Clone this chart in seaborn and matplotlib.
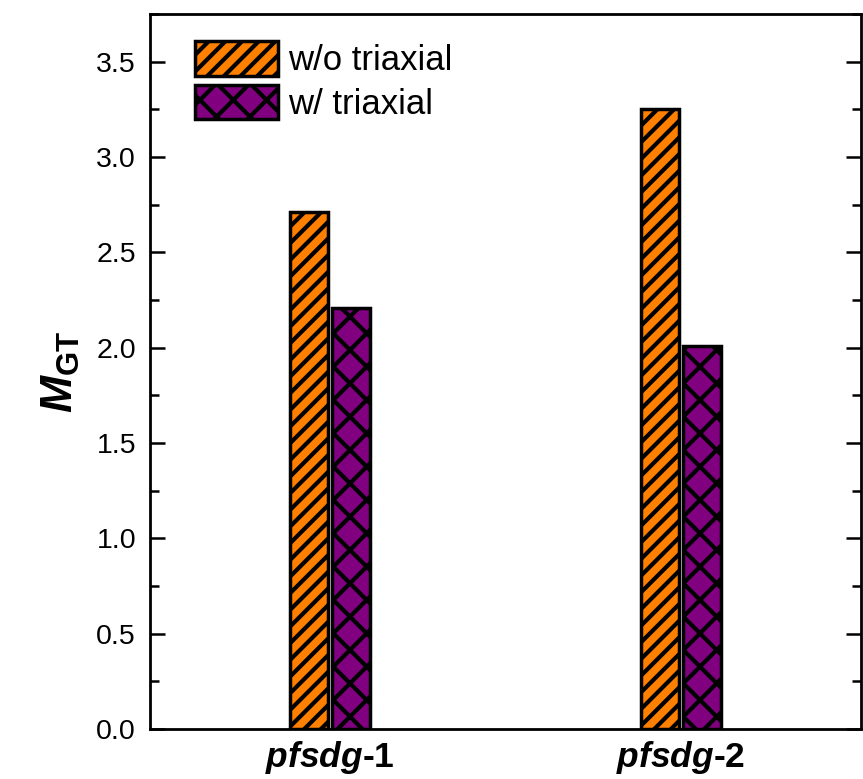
import matplotlib
matplotlib.use("Agg")
import matplotlib.pyplot as plt
import seaborn as sns
import pandas as pd
from matplotlib.ticker import MultipleLocator
from matplotlib.patches import Patch

categories = ["pfsdg-1", "pfsdg-2"]
series_names = ["w/o triaxial", "w/ triaxial"]
values_wo = [2.71, 3.25]
values_w = [2.21, 2.01]
tick_labels = [r"$\mathbfit{pfsdg}$-1", r"$\mathbfit{pfsdg}$-2"]

sns.set_theme(style="ticks")
plt.rcParams["font.family"] = ["Liberation Sans", "DejaVu Sans"]
plt.rcParams["mathtext.fontset"] = "custom"
plt.rcParams["mathtext.rm"] = "Liberation Sans"
plt.rcParams["mathtext.it"] = "Liberation Sans:italic"
plt.rcParams["mathtext.bf"] = "Liberation Sans:bold"
plt.rcParams["mathtext.bfit"] = "Liberation Sans:italic:bold"
plt.rcParams["hatch.linewidth"] = 3.0
plt.rcParams["hatch.color"] = "black"
plt.rcParams["text.color"] = "black"
plt.rcParams["axes.labelcolor"] = "black"
plt.rcParams["xtick.color"] = "black"
plt.rcParams["ytick.color"] = "black"
plt.rcParams["axes.edgecolor"] = "black"

df = pd.DataFrame({
    "cat": categories * 2,
    "series": [series_names[0]] * 2 + [series_names[1]] * 2,
    "value": values_wo + values_w,
})

fig = plt.figure(figsize=(8.63, 7.79), dpi=100)
ax = fig.add_axes([150 / 863, 50 / 779, 711 / 863, 715 / 779])

colors = ["#FF8000", "#800080"]
sns.barplot(data=df, x="cat", y="value", hue="series", palette=colors,
            saturation=1, width=0.24, gap=0.1, edgecolor="black", linewidth=2.5,
            ax=ax, legend=False)

hatches = ["//", "x"]
for cont, h in zip(ax.containers, hatches):
    for bar in cont:
        bar.set_hatch(h)

handles = [Patch(facecolor=c, edgecolor="black", linewidth=2.5, hatch=h, label=n)
           for c, h, n in zip(colors, hatches, series_names)]
ax.legend(handles=handles, loc="upper left", bbox_to_anchor=(0.063, 0.962),
          frameon=False, fontsize=25, handlelength=2.4, handleheight=1.15,
          handletextpad=0.3, labelspacing=0.22, borderaxespad=0, borderpad=0)

ax.set_xlim(-0.513, 1.513)
ax.set_ylim(0, 3.75)
ax.yaxis.set_minor_locator(MultipleLocator(0.25))
ax.set_yticks([0, 0.5, 1.0, 1.5, 2.0, 2.5, 3.0, 3.5])
ax.set_yticklabels([f"{v:.1f}" for v in ax.get_yticks()], fontsize=20.5)
ax.set_xticks([0, 1])
ax.set_xticklabels(tick_labels, fontsize=25.5, fontweight="bold")
ax.tick_params(axis="y", which="major", direction="in", length=11, width=1.8,
               left=True, right=True, pad=10)
ax.tick_params(axis="y", which="minor", direction="in", length=6.5, width=1.8,
               left=True, right=True)
ax.tick_params(axis="x", which="both", length=0, pad=7)
for s in ax.spines.values():
    s.set_linewidth(2)
    s.set_visible(True)
ax.set_xlabel("")
ax.set_ylabel(r"$\mathbfit{M}_{\mathbf{GT}}$", fontsize=32, labelpad=10)

fig.savefig("out.png", dpi=100)
